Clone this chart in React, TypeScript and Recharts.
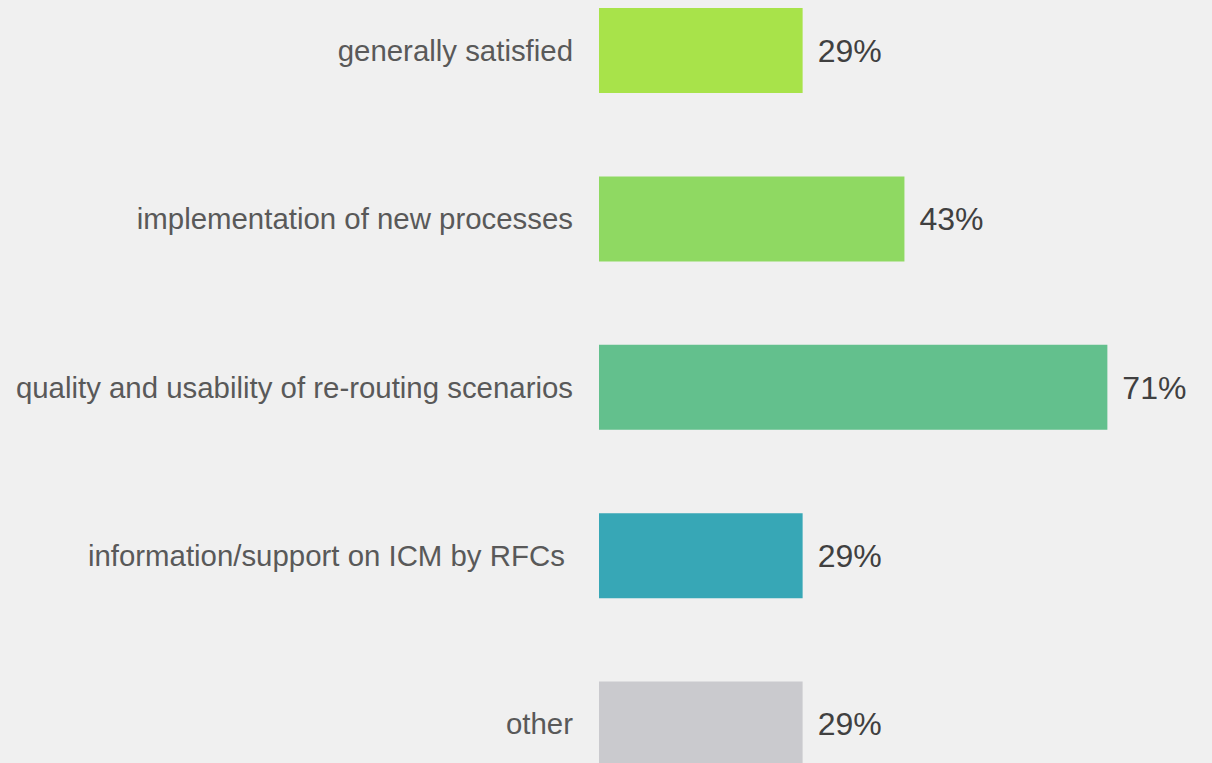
import { BarChart, Bar, XAxis, YAxis, Cell, LabelList } from 'recharts';

const categories = [
  'generally satisfied',
  'implementation of new processes',
  'quality and usability of re-routing scenarios',
  'information/support on ICM by RFCs ',
  'other',
];
const shares = [28.6, 42.9, 71.4, 28.6, 28.6];
const barColors = ['#a8e34a', '#8fd962', '#63c08d', '#37a7b6', '#cacace'];

const data = categories.map((name, i) => ({ name, value: shares[i] }));

const FONT = '"Liberation Sans", Arial, sans-serif';

function CategoryTick({ x, y, payload }: { x?: number; y?: number; payload?: { value: string } }) {
  return (
    <text
      x={x}
      y={y}
      textAnchor="end"
      dominantBaseline="central"
      fill="#595959"
      fontSize={29.4}
      fontFamily={FONT}
      style={{ whiteSpace: 'pre' }}
    >
      {payload?.value}
    </text>
  );
}

export default function App() {
  return (
    <div
      style={{
        position: 'absolute',
        left: 0,
        top: 0,
        width: 1212,
        height: 763,
        overflow: 'hidden',
        background: '#f0f0f0',
      }}
    >
      <div style={{ position: 'absolute', left: 0, top: -34 }}>
        <BarChart
          layout="vertical"
          width={1311}
          height={842}
          data={data}
          margin={{ top: 0, right: 0, left: 0, bottom: 0 }}
          barSize={85}
        >
          <XAxis type="number" domain={[0, 100]} hide />
          <YAxis
            type="category"
            dataKey="name"
            width={599}
            axisLine={false}
            tickLine={false}
            tickSize={0}
            tickMargin={26}
            tick={<CategoryTick />}
          />
          <Bar dataKey="value" isAnimationActive={false}>
            {data.map((d, i) => (
              <Cell key={d.name} fill={barColors[i]} />
            ))}
            <LabelList
              dataKey="value"
              position="right"
              offset={15}
              fill="#404040"
              fontSize={32}
              fontFamily={FONT}
              formatter={(v: number) => `${Math.round(v)}%`}
            />
          </Bar>
        </BarChart>
      </div>
    </div>
  );
}
